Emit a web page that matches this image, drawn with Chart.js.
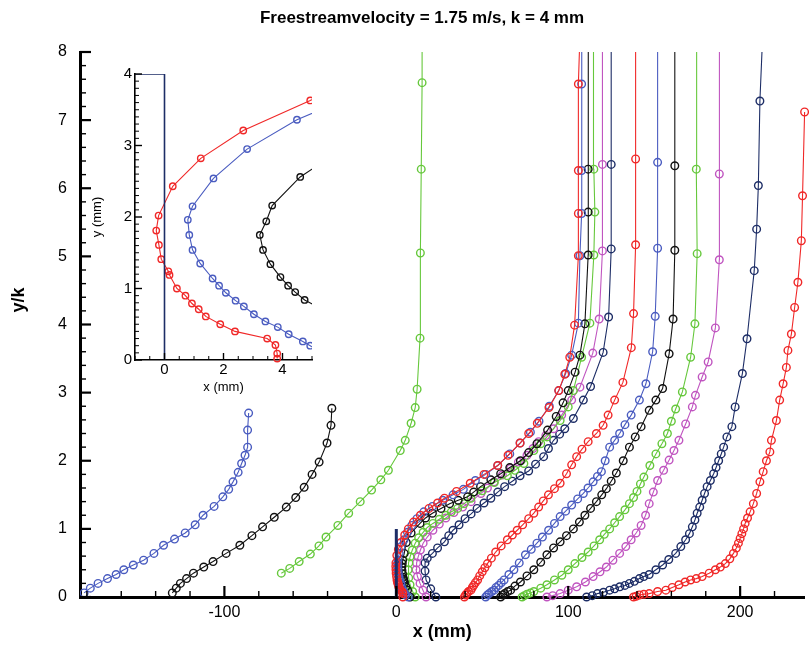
<!DOCTYPE html>
<html>
<head>
<meta charset="utf-8">
<script src="https://cdn.jsdelivr.net/npm/chart.js@4.4.0/dist/chart.umd.min.js"></script>
<style>
  html, body { margin: 0; padding: 0; background: #fff; }
  #wrap { position: relative; width: 810px; height: 646px; }
  #main { position: absolute; left: 0; top: 0; }
  #inset { position: absolute; left: 90px; top: 60px; }
</style>
</head>
<body>
<div id="wrap">
  <canvas id="main" width="810" height="646"></canvas>
  <canvas id="inset" width="240" height="340"></canvas>
</div>
<script>
(() => {
  'use strict';

  // ===== Texts / ticks =====
  const TITLE = 'Freestreamvelocity = 1.75 m/s, k = 4 mm';
  const X_TICKS = [-100, 0, 100, 200];
  const Y_TICKS = [0, 1, 2, 3, 4, 5, 6, 7, 8];
  const INSET_X_TICKS = [0, 2, 4];
  const INSET_Y_TICKS = [0, 1, 2, 3, 4];

  // ===== Profiles, main plot (x in mm, y/k) =====
  // upstream
  const blueUp = [[-181.6,0.06],[-178,0.13],[-173.5,0.2],[-168,0.27],[-163,0.33],[-158.5,0.4],[-153,0.47],[-147,0.54],[-141,0.64],[-135.4,0.76],[-129,0.85],[-122.8,0.94],[-117,1.06],[-112.4,1.2],[-106,1.33],[-100.9,1.47],[-97.5,1.58],[-95,1.69],[-92,1.83],[-90,1.96],[-88,2.08],[-86.5,2.2],[-86.5,2.45],[-85.9,2.7]];
  const blackUp = [[-130.3,0.06],[-128,0.13],[-125.6,0.2],[-122,0.27],[-118,0.35],[-112,0.44],[-106.6,0.52],[-99,0.64],[-91,0.76],[-84,0.9],[-77.8,1.03],[-71,1.17],[-64,1.32],[-58.5,1.46],[-53.6,1.61],[-49,1.8],[-44.9,1.98],[-40.3,2.26],[-38,2.52],[-37.5,2.77]];
  const greenUp = [[-66.9,0.35],[-62,0.42],[-56.5,0.52],[-50,0.63],[-45,0.75],[-40.9,0.88],[-34,1.05],[-27.7,1.23],[-21,1.4],[-14.4,1.57],[-9,1.72],[-4.6,1.86],[2.3,2.15],[5.2,2.3],[8.6,2.55],[11,2.78],[12.1,3.05],[13.8,3.8],[14,5.05],[14.5,6.28],[15,7.55],[15,8]];
  // behind the element
  const redA = [[3.8,0],[3.8,0.05],[3.5,0.075],[2.4,0.1],[1.9,0.125],[1.4,0.15],[1.2,0.18],[0.9,0.2],[0.7,0.22],[0.4,0.25],[0.15,0.3],[-0.1,0.35],[-0.2,0.4],[-0.3,0.45],[-0.2,0.5],[0.3,0.61],[1.2,0.7],[2.7,0.8],[4.9,0.91],[7,1.0],[10,1.1],[14,1.2],[19,1.3],[24,1.38],[28,1.45],[35,1.55],[43,1.67],[51,1.8],[59,1.93],[65,2.08],[72,2.26],[77,2.4],[82,2.55],[88.8,2.78],[94.5,3.03],[98,3.27],[100.9,3.52],[103.7,3.99],[105.9,5.01],[105.9,5.63],[105.9,6.26],[105.9,7.53],[106.5,8]];
  const blueA = [[7,0],[5.5,0.03],[4.9,0.05],[4.2,0.09],[3.4,0.13],[2.7,0.19],[2.1,0.24],[1.6,0.29],[1.2,0.34],[0.95,0.39],[0.84,0.44],[0.79,0.49],[0.95,0.54],[1.7,0.64],[2.8,0.74],[4.5,0.84],[6.5,0.95],[9,1.05],[12,1.15],[16,1.25],[21,1.33],[27,1.42],[33,1.5],[39,1.58],[46,1.71],[52,1.8],[59,1.93],[66,2.1],[72,2.26],[78,2.42],[83,2.58],[89,2.8],[94.5,3.03],[98.5,3.28],[102,3.55],[105.9,4.02],[106.8,5.01],[107.8,5.63],[107.8,6.26],[107.8,7.53],[108,8]];
  const blackA = [[8,0],[6.5,0.1],[5.5,0.15],[4.75,0.21],[4.4,0.24],[4.2,0.26],[3.9,0.29],[3.6,0.34],[3.3,0.39],[3.2,0.44],[3.45,0.49],[3.65,0.54],[4.6,0.64],[5.8,0.8],[8.6,0.94],[13.8,1.08],[17,1.16],[21,1.23],[26,1.3],[31,1.37],[36,1.42],[41.5,1.47],[45,1.54],[49,1.62],[55,1.72],[60.7,1.81],[66,1.9],[72.2,2.0],[77,2.12],[81.8,2.25],[88,2.45],[93,2.65],[97,2.85],[100,3.03],[104,3.3],[106.8,3.55],[109.7,4.01],[111.6,5.02],[111.6,5.65],[111.6,6.28],[111.8,8]];
  const greenA = [[11,0],[9.5,0.08],[8,0.18],[7.2,0.28],[6.9,0.4],[7.3,0.5],[8,0.59],[9.3,0.69],[11,0.79],[13,0.87],[15.6,0.95],[18,1.02],[21.3,1.08],[25,1.14],[28.8,1.2],[32,1.25],[35.7,1.3],[39.5,1.37],[43.4,1.45],[50,1.56],[57,1.68],[64.6,1.78],[69,1.86],[74.2,1.96],[80,2.15],[84,2.25],[87.6,2.35],[95.3,2.59],[100,2.79],[103,3.03],[107.8,3.52],[112.6,4.02],[114.9,5.02],[115.5,5.65],[114.9,6.28],[114.7,8]];
  const magentaA = [[17.3,0],[15.5,0.1],[13.8,0.2],[12.3,0.3],[11.5,0.4],[11.8,0.5],[12.7,0.59],[14,0.69],[15.6,0.79],[18,0.88],[21.3,0.98],[25,1.07],[28.8,1.16],[33.5,1.24],[38.6,1.32],[43.5,1.4],[49.2,1.52],[53,1.6],[56.9,1.69],[61.7,1.79],[66.5,1.89],[71,1.98],[76,2.08],[79.5,2.18],[82.8,2.28],[87,2.37],[91.5,2.47],[96.2,2.67],[102,2.89],[106.8,3.08],[114.3,3.58],[118,4.08],[119.9,5.08],[119.9,6.35],[119.9,8]];
  const navyA = [[23,0],[20,0.12],[17.3,0.25],[16.7,0.38],[16.7,0.5],[18,0.57],[21,0.64],[24,0.72],[28,0.81],[30.5,0.9],[33,0.98],[36.5,1.06],[40,1.15],[43.5,1.22],[47,1.3],[51,1.38],[55,1.45],[59,1.54],[63,1.62],[67.5,1.7],[72,1.78],[77,1.85],[81,1.95],[85.7,2.06],[88.5,2.18],[91.5,2.3],[95,2.39],[98,2.47],[103,2.62],[108.8,2.89],[113,3.09],[120.3,3.59],[123.5,4.11],[125,5.11],[125,6.35],[125,8]];
  // further downstream
  const redB = [[39.6,0],[40.3,0.03],[41,0.05],[42,0.08],[43.4,0.1],[44.2,0.14],[45,0.17],[46,0.21],[47.3,0.25],[48.5,0.31],[50,0.37],[51.5,0.43],[53,0.49],[55.3,0.57],[57.8,0.66],[61,0.75],[64.6,0.84],[67.5,0.91],[70.3,0.98],[73.5,1.06],[77,1.15],[80,1.23],[82.8,1.32],[85.5,1.41],[88.5,1.5],[92,1.59],[95.3,1.67],[99,1.81],[102,1.94],[104.9,2.06],[108,2.17],[111.6,2.28],[116.4,2.4],[120.3,2.52],[123.2,2.67],[127,2.89],[131.8,3.15],[136.7,3.66],[138,4.16],[139.2,5.17],[139.2,6.43],[139.2,8]];
  const blueB = [[52,0],[53,0.03],[54,0.05],[55.5,0.08],[56.9,0.1],[58,0.14],[59.5,0.17],[61,0.21],[62.7,0.25],[65.5,0.33],[68.4,0.4],[71.5,0.5],[75.1,0.62],[78.5,0.7],[81.8,0.79],[85,0.88],[88.6,0.98],[92,1.08],[95.3,1.18],[98.5,1.26],[102,1.35],[105.5,1.44],[108.8,1.52],[111.5,1.6],[114.5,1.69],[117,1.77],[119.3,1.84],[121.5,2.0],[124.1,2.2],[127,2.3],[129.9,2.4],[133,2.53],[136.6,2.67],[141.4,2.89],[145.2,3.13],[149.1,3.6],[150.6,4.12],[152,5.12],[152,6.38],[152,8]];
  const blackB = [[60.7,0],[62,0.03],[63,0.05],[64.8,0.08],[66.5,0.1],[69,0.16],[72.2,0.22],[76,0.31],[80,0.4],[84,0.51],[87.6,0.62],[91.5,0.72],[95.3,0.81],[99,0.9],[103,1.0],[106.5,1.1],[109.7,1.2],[113,1.3],[116.4,1.4],[119.5,1.5],[122.2,1.59],[125,1.7],[128,1.82],[132,2.0],[135.6,2.2],[139,2.35],[142.4,2.5],[147.1,2.74],[151,2.89],[154.9,3.06],[158.7,3.57],[161,4.08],[162,5.09],[162,6.33],[162,8]];
  const greenB = [[73.2,0],[74.5,0.02],[76,0.04],[78,0.06],[80,0.08],[84,0.13],[87.6,0.18],[92,0.25],[96.3,0.32],[100,0.4],[103.9,0.49],[108,0.58],[111.6,0.66],[115,0.75],[118.3,0.84],[121,0.92],[124.1,1.0],[127,1.09],[129.9,1.18],[133,1.28],[135.6,1.37],[138,1.46],[140,1.55],[142,1.66],[144,1.76],[147.5,1.93],[151,2.1],[154.5,2.25],[157.7,2.4],[160,2.58],[162.5,2.76],[166.4,3.01],[171.2,3.52],[173.7,4.01],[175,5.04],[174.5,6.28],[174.7,8]];
  const magentaB = [[87.6,0],[91,0.02],[95.3,0.05],[100,0.1],[104.9,0.15],[110,0.22],[114.5,0.3],[118.5,0.37],[122.2,0.44],[126,0.54],[129.9,0.64],[133.5,0.74],[136.6,0.84],[139.5,0.94],[142.4,1.05],[145,1.2],[147.1,1.37],[149.5,1.54],[152,1.71],[155.5,1.86],[158.7,2.01],[161.5,2.15],[164.4,2.3],[168.3,2.54],[172.2,2.79],[174,2.96],[177.9,3.23],[181.4,3.45],[185.6,3.95],[187.9,4.95],[187.9,6.21],[188,8]];
  const navyB = [[110.7,0],[114,0.02],[117,0.05],[120.5,0.07],[124.1,0.1],[127,0.12],[130,0.15],[133,0.17],[135.6,0.2],[138.5,0.23],[141.4,0.27],[144,0.3],[147.1,0.33],[151,0.4],[154.9,0.47],[158.5,0.55],[162.5,0.64],[165.5,0.74],[168.3,0.84],[170.5,0.93],[172.2,1.03],[173.7,1.13],[175,1.23],[176.5,1.32],[177.9,1.42],[179.3,1.52],[180.8,1.62],[182.7,1.71],[184.6,1.81],[186,1.9],[187.5,2.0],[189,2.1],[190.4,2.2],[192.3,2.35],[195.2,2.5],[197.1,2.79],[201.3,3.28],[204,3.79],[208.2,4.79],[209.6,5.4],[210.6,6.04],[211.5,7.28],[212.7,8]];
  const redC = [[138,0],[139.5,0.01],[141.4,0.03],[144,0.04],[147.1,0.05],[152,0.08],[156.8,0.1],[160.5,0.14],[164.4,0.18],[168,0.22],[171.2,0.25],[174.5,0.27],[177.9,0.3],[182,0.35],[185.6,0.4],[188.5,0.44],[191.4,0.49],[194,0.56],[196.1,0.64],[197.8,0.72],[199,0.79],[200,0.86],[201,0.93],[202,1.0],[202.9,1.08],[204.3,1.16],[205.8,1.25],[207.7,1.37],[209.6,1.52],[211.5,1.69],[213.4,1.84],[215.3,2.0],[217.3,2.13],[218.2,2.3],[221.1,2.59],[223,2.89],[225,3.13],[226.9,3.37],[227.8,3.62],[229.8,3.86],[231.7,4.25],[233.6,4.62],[235.6,5.23],[236.3,5.89],[237.5,7.12],[238,8]];
  // roughness element (k = 4 mm)
  const elementMain = [[0,0],[0,1]];

  // ===== Inset (x, y in mm) =====
  const redInset = [[3.82,0.02],[3.82,0.09],[3.76,0.21],[3.48,0.3],[2.39,0.4],[1.89,0.5],[1.4,0.61],[1.16,0.71],[0.93,0.79],[0.71,0.9],[0.42,1.0],[0.17,1.19],[0.13,1.24],[-0.11,1.41],[-0.19,1.61],[-0.28,1.81],[-0.2,2.02],[0.28,2.43],[1.23,2.82],[2.67,3.21],[4.94,3.63],[5.5,3.75]];
  const blueInset = [[5.3,0.1],[4.94,0.2],[4.69,0.26],[4.21,0.36],[3.84,0.46],[3.42,0.54],[3.03,0.64],[2.69,0.75],[2.41,0.83],[2.08,0.94],[1.85,1.04],[1.63,1.14],[1.21,1.35],[0.95,1.54],[0.84,1.75],[0.79,1.96],[0.95,2.15],[1.66,2.54],[2.8,2.95],[4.49,3.36],[5.3,3.5]];
  const blackInset = [[5.3,0.72],[4.75,0.84],[4.43,0.95],[4.19,1.04],[3.93,1.16],[3.59,1.34],[3.34,1.54],[3.23,1.75],[3.45,1.94],[3.65,2.16],[4.6,2.56],[5.3,2.75]];
  const elementInset = [[-1,4],[0,4],[0,0]];

  // ===== Styles =====
  const C = {
    red: '#f02828', blue: '#4a5cc0', black: '#111111',
    green: '#66c83c', magenta: '#c055c0', navy: '#1d2d66'
  };
  const FONT = '"Liberation Sans", Arial, sans-serif';

  const pts = a => a.map(([x, y]) => ({ x, y }));
  const profile = (data, color, r, lim) => ({
    data: pts(data),
    showLine: true,
    borderColor: color,
    borderWidth: 1.1,
    pointStyle: 'circle',
    pointRadius: c => (c.raw && (c.raw.y >= lim.y || c.raw.x >= lim.x)) ? 0 : r,
    pointBorderColor: color,
    pointBorderWidth: 1.4,
    pointBackgroundColor: 'rgba(255,255,255,0)',
    tension: 0
  });
  const wall = (data, w) => ({
    data: pts(data), showLine: true, borderColor: C.navy, borderWidth: w,
    pointRadius: 0, tension: 0
  });

  // ===== Inner tick marks =====
  const innerTicks = {
    id: 'innerTicks',
    afterDraw(chart, args, o) {
      const { ctx, chartArea: a, scales: { x, y } } = chart;
      ctx.save();
      ctx.strokeStyle = '#000';
      for (let i = Math.ceil(x.min / o.xMinor); i * o.xMinor <= x.max + 1e-9; i++) {
        const v = i * o.xMinor;
        const major = Math.abs(v / o.xMajor - Math.round(v / o.xMajor)) < 1e-6;
        const px = x.getPixelForValue(v);
        ctx.lineWidth = major ? o.majorW : o.minorW;
        ctx.beginPath();
        ctx.moveTo(px, a.bottom);
        ctx.lineTo(px, a.bottom - (major ? o.majorLen : o.minorLen));
        ctx.stroke();
      }
      for (let i = Math.ceil(y.min / o.yMinor); i * o.yMinor <= y.max + 1e-9; i++) {
        const v = i * o.yMinor;
        const major = Math.abs(v / o.yMajor - Math.round(v / o.yMajor)) < 1e-6;
        const py = y.getPixelForValue(v);
        ctx.lineWidth = major ? o.majorW : o.minorW;
        ctx.beginPath();
        ctx.moveTo(a.left, py);
        ctx.lineTo(a.left + (major ? o.majorLen : o.minorLen), py);
        ctx.stroke();
      }
      ctx.restore();
    }
  };

  const mainText = {
    id: 'mainText',
    afterDraw(chart) {
      const ctx = chart.ctx;
      ctx.save();
      ctx.fillStyle = '#000';
      ctx.textAlign = 'center';
      ctx.textBaseline = 'middle';
      ctx.font = 'bold 17px ' + FONT;
      ctx.fillText(TITLE, 422, 18);
      ctx.translate(19, 300);
      ctx.rotate(-Math.PI / 2);
      ctx.font = 'bold 18px ' + FONT;
      ctx.fillText('y/k', 0, 0);
      ctx.restore();
    }
  };

  // ===== Main chart =====
  const limMain = { x: 1e9, y: 8 };
  const R = 3.8;
  new Chart(document.getElementById('main'), {
    type: 'scatter',
    data: {
      datasets: [
        wall(elementMain, 3),
        profile(blueUp, C.blue, R, limMain),
        profile(blackUp, C.black, R, limMain),
        profile(greenUp, C.green, R, limMain),
        profile(redA, C.red, R, limMain),
        profile(blueA, C.blue, R, limMain),
        profile(blackA, C.black, R, limMain),
        profile(greenA, C.green, R, limMain),
        profile(magentaA, C.magenta, R, limMain),
        profile(navyA, C.navy, R, limMain),
        profile(redB, C.red, R, limMain),
        profile(blueB, C.blue, R, limMain),
        profile(blackB, C.black, R, limMain),
        profile(greenB, C.green, R, limMain),
        profile(magentaB, C.magenta, R, limMain),
        profile(navyB, C.navy, R, limMain),
        profile(redC, C.red, R, limMain)
      ].map(d => Object.assign(d, { clip: { left: 0, top: 0, right: 6, bottom: 6 } }))
    },
    options: {
      responsive: false,
      animation: false,
      events: [],
      layout: { padding: { top: 52, right: 0, left: 0, bottom: 0 } },
      plugins: {
        legend: { display: false },
        tooltip: { enabled: false },
        innerTicks: { xMinor: 20, xMajor: 100, yMinor: 0.2, yMajor: 1, majorLen: 11, minorLen: 6, majorW: 2.2, minorW: 1.4 }
      },
      scales: {
        x: {
          type: 'linear', min: -184, max: 237.5,
          afterFit: s => { s.height = 49; },
          afterBuildTicks: s => { s.ticks = X_TICKS.map(v => ({ value: v })); },
          grid: { display: false, drawTicks: false },
          border: { display: true, color: '#000', width: 3 },
          ticks: { color: '#000', padding: 6, font: { family: FONT, size: 16 }, maxRotation: 0 },
          title: { display: true, text: 'x (mm)', color: '#000', padding: { top: 0, bottom: 3 }, font: { family: FONT, size: 18, weight: 'bold' } }
        },
        y: {
          type: 'linear', min: 0, max: 8,
          afterFit: s => { s.width = 80; },
          afterBuildTicks: s => { s.ticks = Y_TICKS.map(v => ({ value: v })); },
          grid: { display: false, drawTicks: false },
          border: { display: true, color: '#000', width: 3 },
          ticks: { color: '#000', padding: 13, font: { family: FONT, size: 16 } }
        }
      }
    },
    plugins: [innerTicks, mainText]
  });

  // ===== Inset chart =====
  const limInset = { x: 5.2, y: 1e9 };
  new Chart(document.getElementById('inset'), {
    type: 'scatter',
    data: {
      datasets: [
        wall(elementInset, 1.6),
        profile(redInset, C.red, 3.2, limInset),
        profile(blueInset, C.blue, 3.2, limInset),
        profile(blackInset, C.black, 3.2, limInset)
      ].map(d => Object.assign(d, { clip: { left: 0, top: 0, right: 0, bottom: 4 } }))
    },
    options: {
      responsive: false,
      animation: false,
      events: [],
      layout: { padding: { top: 14, right: 18, left: 0, bottom: 0 } },
      plugins: {
        legend: { display: false },
        tooltip: { enabled: false },
        innerTicks: { xMinor: 0.5, xMajor: 2, yMinor: 0.1, yMajor: 1, majorLen: 7, minorLen: 4, majorW: 1.4, minorW: 1 }
      },
      scales: {
        x: {
          type: 'linear', min: -1, max: 5,
          afterFit: s => { s.height = 40; },
          afterBuildTicks: s => { s.ticks = INSET_X_TICKS.map(v => ({ value: v })); },
          grid: { display: false, drawTicks: false },
          border: { display: true, color: '#000', width: 1.6 },
          ticks: { color: '#000', padding: 1, font: { family: FONT, size: 15 }, maxRotation: 0 },
          title: { display: true, text: 'x (mm)', color: '#000', padding: { top: 0, bottom: 5 }, font: { family: FONT, size: 13 } }
        },
        y: {
          type: 'linear', min: 0, max: 4,
          afterFit: s => { s.width = 45; },
          afterBuildTicks: s => { s.ticks = INSET_Y_TICKS.map(v => ({ value: v })); },
          grid: { display: false, drawTicks: false },
          border: { display: true, color: '#000', width: 1.6 },
          ticks: { color: '#000', padding: 3, font: { family: FONT, size: 15 } },
          title: { display: true, text: 'y (mm)', color: '#000', padding: { top: 0, bottom: 2 }, font: { family: FONT, size: 13 } }
        }
      }
    },
    plugins: [innerTicks]
  });
})();
</script>
</body>
</html>
